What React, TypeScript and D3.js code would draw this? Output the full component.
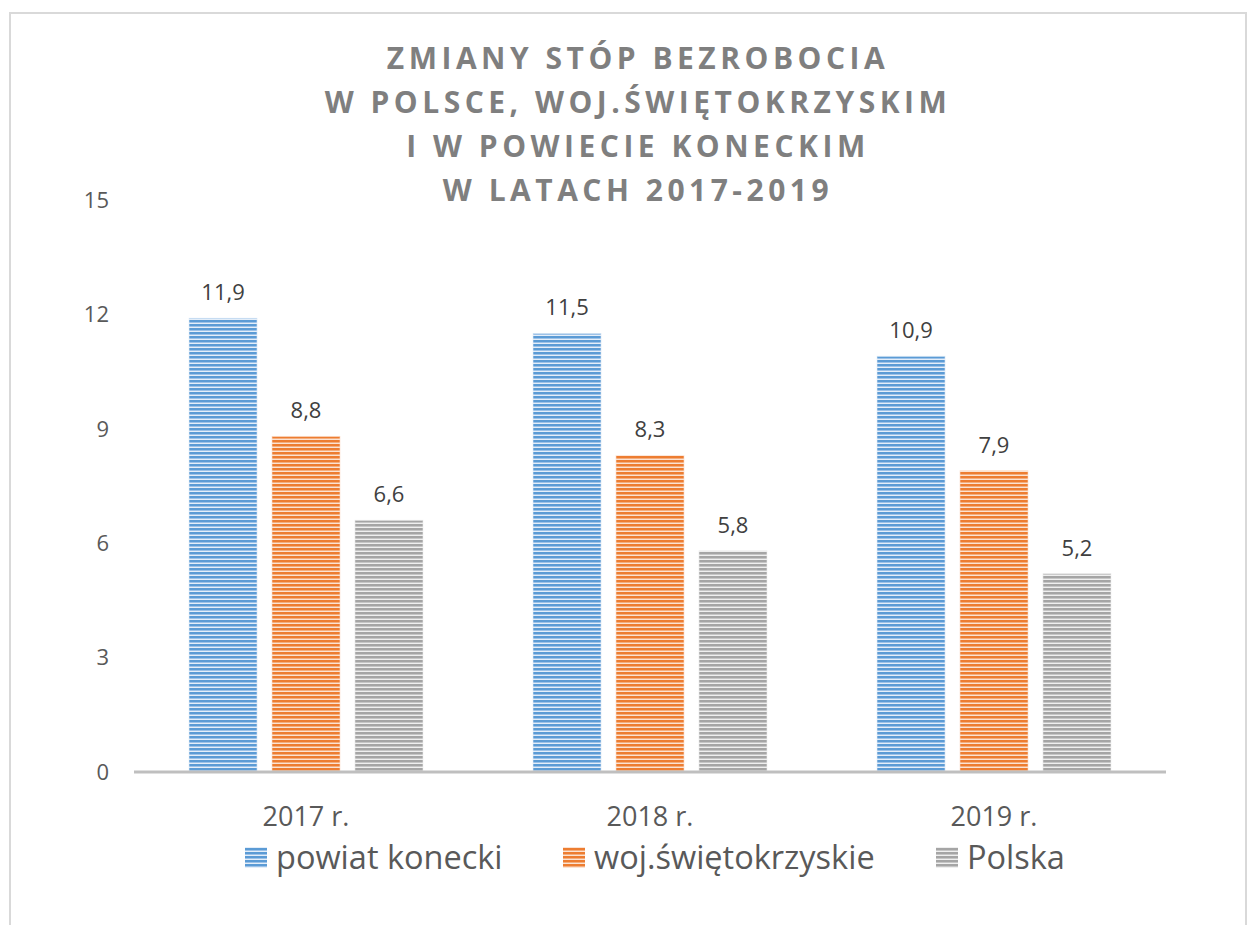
import React from 'react';
import * as d3 from 'd3';

const width = 1248;
const height = 925;

const years = ['2017 r.', '2018 r.', '2019 r.'];
const seriesNames = ['powiat konecki', 'woj.świętokrzyskie', 'Polska'];
const powiat = [11.9, 11.5, 10.9];
const woj = [8.8, 8.3, 7.9];
const polska = [6.6, 5.8, 5.2];
const yTicks = [0, 3, 6, 9, 12, 15];
const titleLines = [
    'ZMIANY STÓP BEZROBOCIA',
    'W POLSCE, WOJ.ŚWIĘTOKRZYSKIM',
    'I W POWIECIE KONECKIM',
    'W LATACH 2017-2019',
];

const colors = [
    { dark: '#5b9bd5', mid: '#9cc2e8', light: '#e4eef9' },
    { dark: '#ed7d31', mid: '#f4ae7e', light: '#fbe3d3' },
    { dark: '#a5a5a5', mid: '#c6c6c6', light: '#efefef' },
];

const plot = { left: 134, right: 1166, top: 200, bottom: 772 };
const font = "'Open Sans', 'Noto Sans', sans-serif";

const App = () => {
    const series = [powiat, woj, polska];

    const x0 = d3.scaleBand<string>()
        .domain(years)
        .range([plot.left, plot.right]);
    const x1 = d3.scaleBand<number>()
        .domain([0, 1, 2])
        .range([0, 234])
        .paddingInner(0.18);
    const y = d3.scaleLinear()
        .domain([0, 15])
        .range([plot.bottom, plot.top]);

    const groupOffset = (x0.bandwidth() - 234) / 2;

    return (
        <svg width={width} height={height} style={{ position: 'absolute', left: 0, top: 0 }}>
            <defs>
                {colors.map((c, i) => (
                    <pattern key={i} id={`stripe${i}`} width={8} height={4} patternUnits="userSpaceOnUse">
                        <rect width={8} height={4} fill={c.mid} />
                        <rect y={0} width={8} height={2} fill={c.dark} />
                        <rect y={3} width={8} height={1} fill={c.light} />
                    </pattern>
                ))}
            </defs>
            <rect x={0} y={0} width={width} height={height} fill="#fff" />
            <rect x={10} y={13} width={1236} height={930} fill="none" stroke="#d9d9d9" strokeWidth={2} />

            <g fill="#7f7f7f" fontFamily={font} fontWeight="bold" fontSize={30} textAnchor="middle" letterSpacing={4.5}>
                {titleLines.map((t, i) => (
                    <text key={i} x={638} y={69 + i * 44}>{t}</text>
                ))}
            </g>

            <g fill="#595959" fontFamily={font} fontSize={22} textAnchor="end">
                {yTicks.map(t => (
                    <text key={t} x={109} y={y(t)} dy="0.35em">{t}</text>
                ))}
            </g>

            {years.map((yr, gi) => (
                <g key={yr} transform={`translate(${(x0(yr) as number) + groupOffset},0)`}>
                    {series.map((s, si) => {
                        const bx = x1(si) as number;
                        const bw = x1.bandwidth();
                        return (
                            <g key={si}>
                                <rect
                                    x={bx}
                                    y={y(s[gi])}
                                    width={bw}
                                    height={y(0) - y(s[gi])}
                                    fill={`url(#stripe${si})`}
                                    stroke={colors[si].light}
                                    strokeOpacity={0.6}
                                    strokeWidth={1}
                                />
                                <text
                                    x={bx + bw / 2}
                                    y={y(s[gi]) - 18}
                                    textAnchor="middle"
                                    fill="#404040"
                                    fontFamily={font}
                                    fontSize={22}
                                >
                                    {String(s[gi]).replace('.', ',')}
                                </text>
                            </g>
                        );
                    })}
                </g>
            ))}

            <line x1={plot.left} x2={plot.right} y1={y(0)} y2={y(0)} stroke="#bfbfbf" strokeWidth={3} />

            <g fill="#595959" fontFamily={font} fontSize={27} textAnchor="middle">
                {years.map(yr => (
                    <text key={yr} x={(x0(yr) as number) + x0.bandwidth() / 2} y={826}>{yr}</text>
                ))}
            </g>

            <g fontFamily={font} fontSize={32.5} fill="#595959">
                {seriesNames.map((n, i) => {
                    const lx = [245, 563, 936][i];
                    return (
                        <g key={n}>
                            <rect x={lx} y={847} width={22} height={21} fill={`url(#stripe${i})`} />
                            <text x={lx + 31} y={869}>{n}</text>
                        </g>
                    );
                })}
            </g>
        </svg>
    );
};

export default App;
